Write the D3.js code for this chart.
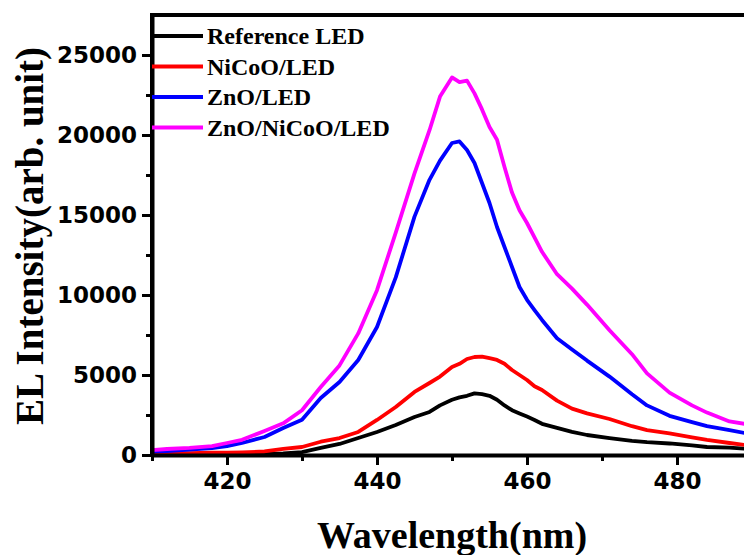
<!DOCTYPE html>
<html>
<head>
<meta charset="utf-8">
<script src="https://cdn.jsdelivr.net/npm/d3@7"></script>
<style>
  body { margin: 0; background: #fff; }
</style>
</head>
<body>
<script>
// wavelengths (nm) where the curves were read
const wavelength = [410, 412, 415, 418, 420, 422, 425, 427.5, 430, 432.5, 435, 437.5, 440, 442.5, 445, 447, 448.4,
  450, 451, 452, 453, 454, 455, 456, 457, 458, 459, 460, 461, 462, 464, 466, 468, 471, 474, 476, 479, 482, 484, 487, 489];

const referenceLED = [30, 35, 40, 45, 50, 60, 80, 100, 180, 440, 690, 1060, 1440, 1875, 2375, 2690, 3100,
  3450, 3600, 3700, 3850, 3800, 3700, 3450, 3100, 2800, 2600, 2400, 2190, 1950, 1700, 1450, 1250, 1050, 880, 800, 720, 600, 500, 460, 400];
const nicooLED = [120, 110, 110, 140, 150, 170, 220, 380, 500, 830, 1060, 1440, 2190, 3000, 3940, 4500, 4900,
  5500, 5700, 6000, 6125, 6150, 6050, 5940, 5700, 5310, 5000, 4690, 4300, 4060, 3400, 2900, 2600, 2250, 1800, 1560, 1350, 1100, 940, 750, 625];
const znoLED = [220, 250, 330, 430, 560, 750, 1125, 1690, 2200, 3560, 4560, 5940, 8000, 11100, 14900, 17200, 18400,
  19500, 19600, 19060, 18250, 17000, 15750, 14250, 13000, 11750, 10500, 9700, 9060, 8440, 7300, 6600, 5900, 4900, 3800, 3100, 2450, 2050, 1800, 1550, 1375];
const znoNicooLED = [310, 375, 440, 560, 750, 950, 1500, 1980, 2800, 4250, 5600, 7600, 10300, 13900, 17600, 20300, 22400,
  23600, 23300, 23400, 22600, 21600, 20500, 19700, 18000, 16400, 15300, 14500, 13600, 12700, 11300, 10400, 9400, 7800, 6300, 5100, 3900, 3100, 2650, 2100, 1950];

const seriesNames = ["Reference LED", "NiCoO/LED", "ZnO/LED", "ZnO/NiCoO/LED"];
const seriesValues = [referenceLED, nicooLED, znoLED, znoNicooLED];
const seriesColors = ["#000000", "#ff0000", "#0000ff", "#ff00ff"];

const xMajorTicks = [420, 440, 460, 480];
const xMinorTicks = [410, 430, 450, 470, 490];
const yMajorTicks = [0, 5000, 10000, 15000, 20000, 25000];
const yMinorTicks = [2500, 7500, 12500, 17500, 22500];

const width = 744, height = 555;
const plotLeft = 152, plotTop = 15, plotBottom = 455, plotRight = 752;

const svg = d3.select("body").append("svg")
    .attr("width", width)
    .attr("height", height);

const x = d3.scaleLinear().domain([410, 490]).range([plotLeft, plotRight]);
const y = d3.scaleLinear().domain([0, 27500]).range([plotBottom, plotTop]);

// clip for the curves
svg.append("clipPath").attr("id", "plot")
  .append("rect")
    .attr("x", plotLeft).attr("y", plotTop)
    .attr("width", plotRight - plotLeft).attr("height", plotBottom - plotTop);

const line = d3.line()
    .x(d => x(d[0]))
    .y(d => y(d[1]));

seriesValues.forEach((vals, i) => {
  svg.append("path")
      .datum(wavelength.map((w, j) => [w, vals[j]]))
      .attr("clip-path", "url(#plot)")
      .attr("fill", "none")
      .attr("stroke", seriesColors[i])
      .attr("stroke-width", 3.8)
      .attr("stroke-linejoin", "round")
      .attr("d", line);
});

// axes
const tickFont = "'DejaVu Sans', Arial, sans-serif";

svg.append("g").attr("transform", `translate(0,${plotBottom})`)
    .call(d3.axisBottom(x).tickValues(xMajorTicks).tickSize(10).tickPadding(8).tickSizeOuter(0));
svg.append("g").attr("transform", `translate(0,${plotBottom})`)
    .call(d3.axisBottom(x).tickValues(xMinorTicks).tickSize(6).tickFormat("").tickSizeOuter(0))
    .select(".domain").remove();

svg.append("g").attr("transform", `translate(${plotLeft},0)`)
    .call(d3.axisLeft(y).tickValues(yMajorTicks).tickFormat(d3.format("d"))
      .tickSize(10).tickPadding(5).tickSizeOuter(0));
svg.append("g").attr("transform", `translate(${plotLeft},0)`)
    .call(d3.axisLeft(y).tickValues(yMinorTicks).tickSize(6).tickFormat("").tickSizeOuter(0))
    .select(".domain").remove();

svg.selectAll(".domain").attr("stroke", "#000").attr("stroke-width", 4);
svg.selectAll(".tick line").attr("stroke", "#000").attr("stroke-width", 3);
svg.selectAll(".tick text")
    .attr("font-family", tickFont)
    .attr("font-weight", "bold")
    .attr("font-size", 23)
    .attr("fill", "#000");

// frame top and left
svg.append("line")
    .attr("x1", plotLeft).attr("x2", plotRight)
    .attr("y1", plotTop).attr("y2", plotTop)
    .attr("stroke", "#000").attr("stroke-width", 4);
svg.append("line")
    .attr("x1", plotLeft).attr("x2", plotLeft)
    .attr("y1", plotTop - 2).attr("y2", plotBottom)
    .attr("stroke", "#000").attr("stroke-width", 4);

// axis titles
svg.append("text")
    .attr("x", 452).attr("y", 548)
    .attr("text-anchor", "middle")
    .attr("font-family", "'Liberation Serif', 'Times New Roman', serif")
    .attr("font-weight", "bold")
    .attr("font-size", 38)
    .text("Wavelength(nm)");

svg.append("text")
    .attr("transform", "translate(43,236) rotate(-90)")
    .attr("text-anchor", "middle")
    .attr("font-family", "'Liberation Serif', 'Times New Roman', serif")
    .attr("font-weight", "bold")
    .attr("font-size", 39)
    .text("EL Intensity(arb. unit)");

// legend
const legend = svg.append("g");
seriesNames.forEach((name, i) => {
  const ly = 36 + i * 30.5;
  legend.append("line")
      .attr("x1", plotLeft).attr("x2", 203)
      .attr("y1", ly).attr("y2", ly)
      .attr("stroke", seriesColors[i])
      .attr("stroke-width", 4);
  legend.append("text")
      .attr("x", 207).attr("y", ly + 8)
      .attr("font-family", "'Liberation Serif', 'Times New Roman', serif")
      .attr("font-weight", "bold")
      .attr("font-size", 24)
      .text(name);
});
</script>
</body>
</html>
